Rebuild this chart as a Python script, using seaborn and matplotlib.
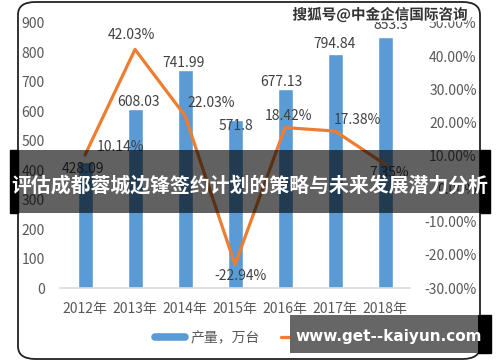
import numpy as np
import pandas as pd
import matplotlib
matplotlib.use("Agg")
import matplotlib.pyplot as plt
import seaborn as sns
from matplotlib.lines import Line2D
from matplotlib.patches import FancyBboxPatch, Rectangle
import matplotlib.patheffects as pe

years = ["2012年", "2013年", "2014年", "2015年", "2016年", "2017年", "2018年"]
output = [428.09, 608.03, 741.99, 571.8, 677.13, 794.84, 853.3]
growth = [10.14, 42.03, 22.03, -22.94, 18.42, 17.38, 7.35]
left_ticks = [0, 100, 200, 300, 400, 500, 600, 700, 800, 900]
right_ticks = [-30, -20, -10, 0, 10, 20, 30, 40, 50]
title_text = "评估成都蓉城边锋签约计划的策略与未来发展潜力分析"
watermark = "搜狐号@中金企信国际咨询"
url_text = "www.get--kaiyun.com"
legend_labels = ["产量，万台", "增长"]

sns.set_theme(style="white")
plt.rcParams['font.family'] = ['Noto Sans CJK SC', 'DejaVu Sans']

BLUE = "#5B9BD5"
ORANGE = "#ED7D31"
TXT = "#595959"
LBL = "#404040"

W, H = 500, 362
fig = plt.figure(figsize=(5, 3.62), dpi=100)
ax = fig.add_axes([60 / W, 1 - 288 / H, 350 / W, 265 / H])

df = pd.DataFrame({"year": years, "output": output, "growth": growth})
sns.barplot(data=df, x="year", y="output", color=BLUE, width=0.3, saturation=1, ax=ax)
ax.set_ylim(0, 900)
ax.set_xlim(-0.5, 6.5)
ax.set_yticks(left_ticks)
ax.set_xlabel("")
ax.set_ylabel("")
for s in ["top", "right", "left"]:
    ax.spines[s].set_visible(False)
ax.spines["bottom"].set_color("#D9D9D9")
ax.spines["bottom"].set_linewidth(1.2)
ax.tick_params(axis="y", length=0, pad=11, labelsize=10, labelcolor=TXT)
ax.tick_params(axis="x", length=0, pad=10, labelsize=10, labelcolor=TXT)

ax2 = ax.twinx()
df["pos"] = np.arange(len(years))
sns.lineplot(data=df, x="pos", y="growth", color=ORANGE, linewidth=2.3, ax=ax2)
ax2.set_ylim(-30, 50)
ax2.set_yticks(right_ticks)
ax2.set_yticklabels([f"{t:.2f}%" for t in right_ticks])
ax2.set_xlim(-0.5, 6.5)
ax2.set_ylabel("")
ax2.set_xlabel("")
for s in ["top", "right", "left", "bottom"]:
    ax2.spines[s].set_visible(False)
ax2.tick_params(axis="y", length=0, pad=48, labelsize=10, labelcolor=TXT)
for t in ax2.get_yticklabels():
    t.set_horizontalalignment("right")

px = 0.72  # points per pixel
bar_off = [(-2, -7), (3, 7), (-1, 7), (1, -6), (-4, 7), (-1, 10), (6, 12)]
for i, (v, (dx, dy)) in enumerate(zip(output, bar_off)):
    ax.annotate(f"{v:g}", (i, v), xytext=(dx * px, dy * px),
                textcoords="offset points", ha="center", va="center",
                fontsize=10, color=LBL, zorder=5)
line_off = [(36, 8), (-4, 14), (26, 13), (5, -11), (3, 12), (22, 11), (4, -9)]
for i, (v, (dx, dy)) in enumerate(zip(growth, line_off)):
    ax2.annotate(f"{v:.2f}%", (i, v), xytext=(dx * px, dy * px),
                 textcoords="offset points", ha="center", va="center",
                 fontsize=10, color=LBL, zorder=5)

handles = [Line2D([0], [0], color=BLUE, lw=5.5), Line2D([0], [0], color=ORANGE, lw=2.3)]
fig.legend(handles, legend_labels, loc="center", bbox_to_anchor=(250 / W, 1 - 338 / H),
           ncol=2, frameon=False, fontsize=10, labelcolor=TXT, handlelength=2.2,
           columnspacing=1.5, handletextpad=0.4)

# rounded frame
frame = FancyBboxPatch((18 / W, 1 - 359 / H), 462 / W, 357 / H,
                       boxstyle="round,pad=0,rounding_size=0.035",
                       transform=fig.transFigure, fill=False, ec="#222222", lw=1.3,
                       zorder=10)
fig.add_artist(frame)

# watermark
fig.text(468 / W, 1 - 15 / H, watermark, ha="right", va="center", fontsize=10.5,
         color="#333333", fontweight="bold", zorder=20,
         path_effects=[pe.withStroke(linewidth=2.5, foreground="white")])

# title band
fig.add_artist(Rectangle((10 / W, 1 - 213 / H), 8 / W, 63 / H, transform=fig.transFigure,
                         color="black", zorder=30))
fig.add_artist(Rectangle((480 / W, 1 - 213 / H), 10 / W, 63 / H, transform=fig.transFigure,
                         color="black", zorder=30))
fig.add_artist(Rectangle((18 / W, 1 - 213 / H), 462 / W, 63 / H, transform=fig.transFigure,
                         color="black", alpha=0.62, lw=0, zorder=30))
fig.text(250 / W, 1 - 185 / H, title_text, ha="center", va="center", fontsize=14.3,
         color="white", fontweight="bold", zorder=31)

# url box
fig.add_artist(Rectangle((478 / W, 1 - 353 / H), 13 / W, 38 / H, transform=fig.transFigure,
                         color="black", zorder=30))
fig.add_artist(Rectangle((290 / W, 1 - 353 / H), 188 / W, 38 / H, transform=fig.transFigure,
                         color="#666666", lw=0, zorder=30))
fig.text(389 / W, 1 - 336 / H, url_text, ha="center", va="center", fontsize=11,
         color="white", fontweight="bold", family="DejaVu Sans", zorder=31)

fig.savefig("out.png", dpi=100)
